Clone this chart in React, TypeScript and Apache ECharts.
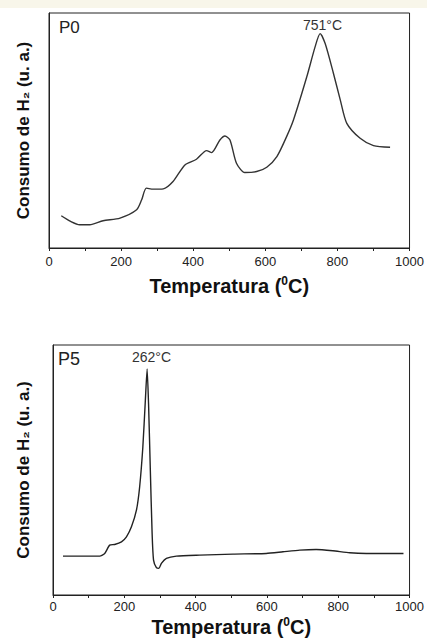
import React, { useEffect, useRef } from "react";
import * as echarts from "echarts";

const xTicks = [0, 200, 400, 600, 800, 1000];

const p0Temp = [34, 60, 85, 113, 150, 197, 243, 257, 270, 289, 317, 344, 377, 409, 437, 451, 474, 488, 502, 520, 543, 576, 604, 632, 659, 678, 715, 738, 752, 766, 789, 808, 826, 863, 900, 946];
const p0Signal = [97, 80, 70, 70, 82, 90, 115, 145, 180, 177, 178, 200, 250, 267, 293, 287, 325, 337, 325, 255, 227, 230, 243, 275, 335, 385, 515, 605, 645, 615, 525, 445, 375, 330, 308, 303];

const p5Temp = [28, 131, 145, 159, 173, 192, 206, 220, 234, 243, 252, 259, 264, 268, 273, 278, 282, 290, 297, 304, 318, 346, 411, 505, 598, 645, 692, 738, 785, 832, 879, 983];
const p5Signal = [117, 117, 125, 150, 152, 160, 175, 205, 255, 325, 445, 585, 680, 575, 375, 185, 105, 82, 80, 95, 110, 117, 120, 123, 125, 130, 135, 137, 133, 127, 125, 125];

const panelNames = ["P0", "P5"];
const peakLabels = ["751°C", "262°C"];
const xTitle = "Temperatura";
const yTitle = "Consumo de H₂ (u. a.)";

const FONT = "Liberation Sans, Arial, sans-serif";

export default function App() {
  const ref = useRef<HTMLDivElement>(null);
  useEffect(() => {
    if (!ref.current) return;
    const chart = echarts.init(ref.current, null, { renderer: "svg" });
    const xAxisBase = (gridIndex: number) => ({
      type: "value",
      gridIndex,
      min: 0,
      max: 1000,
      interval: 200,
      name: `${xTitle} ({sup|0}C)`,
      nameLocation: "middle",
      nameGap: gridIndex === 0 ? 27 : 21,
      nameTextStyle: {
        fontFamily: FONT,
        fontSize: 20,
        fontWeight: "bold",
        color: "#111",
        rich: {
          sup: { fontFamily: FONT, fontSize: 12, fontWeight: "bold", color: "#111", verticalAlign: "top", padding: [0, 0, 10, 0] },
        },
      },
      axisLine: { show: true, lineStyle: { color: "#222", width: 1 } },
      axisTick: { show: true, inside: false, length: 3, lineStyle: { color: "#222" } },
      minorTick: { show: true, splitNumber: 2, length: 3, lineStyle: { color: "#222" } },
      splitLine: { show: false },
      axisLabel: {
        fontFamily: FONT,
        fontSize: 13,
        color: "#222",
        margin: gridIndex === 0 ? 7 : 5,
        formatter: (v: number) => (xTicks.includes(v) ? String(v) : ""),
      },
    });
    const yAxisBase = (gridIndex: number, max: number) => ({
      type: "value",
      gridIndex,
      min: 0,
      max,
      name: yTitle,
      nameLocation: "middle",
      nameGap: gridIndex === 0 ? 17 : 21,
      nameRotate: 90,
      nameTextStyle: { fontFamily: FONT, fontSize: 17, fontWeight: "bold", color: "#111" },
      axisLine: { show: true, lineStyle: { color: "#222" } },
      axisTick: { show: false },
      axisLabel: { show: false },
      splitLine: { show: false },
    });
    chart.setOption({
      animation: false,
      backgroundColor: "#ffffff",
      grid: [
        { left: 49, top: 13, width: 361, height: 235, show: true, borderColor: "#222", borderWidth: 1, backgroundColor: "transparent" },
        { left: 53, top: 345, width: 357, height: 250, show: true, borderColor: "#222", borderWidth: 1, backgroundColor: "transparent" },
      ],
      xAxis: [xAxisBase(0), xAxisBase(1)],
      yAxis: [yAxisBase(0, 707), yAxisBase(1, 752)],
      series: [
        {
          type: "line",
          xAxisIndex: 0,
          yAxisIndex: 0,
          data: p0Temp.map((t, i) => [t, p0Signal[i]]),
          showSymbol: false,
          smooth: 0.25,
          lineStyle: { color: "#333", width: 1.4 },
        },
        {
          type: "line",
          xAxisIndex: 1,
          yAxisIndex: 1,
          data: p5Temp.map((t, i) => [t, p5Signal[i]]),
          showSymbol: false,
          smooth: 0.2,
          lineStyle: { color: "#222", width: 1.4 },
        },
      ],
      graphic: [
        { type: "rect", shape: { x: 0, y: 0, width: 427, height: 8 }, style: { fill: "#f8f6ea" }, silent: true },
        { type: "text", x: 59, y: 19, style: { text: panelNames[0], font: `17px ${FONT}`, fill: "#222" } },
        { type: "text", x: 303, y: 18, style: { text: peakLabels[0], font: `14px ${FONT}`, fill: "#333" } },
        { type: "text", x: 58, y: 350, style: { text: panelNames[1], font: `18px ${FONT}`, fill: "#222" } },
        { type: "text", x: 132, y: 350, style: { text: peakLabels[1], font: `14px ${FONT}`, fill: "#333" } },
      ],
    });
    return () => chart.dispose();
  }, []);
  return <div ref={ref} style={{ position: "absolute", left: 0, top: 0, width: 427, height: 639 }} />;
}
